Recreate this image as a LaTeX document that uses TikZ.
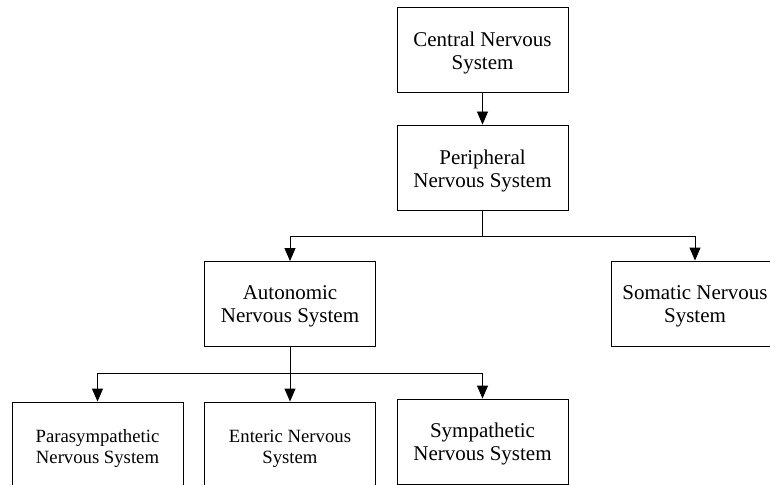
\documentclass[tikz,border=0pt]{standalone}
\usepackage{fontspec}
\setmainfont{Liberation Serif}
\usetikzlibrary{arrows.meta}
% text of a box, set a little below the middle
\newcommand{\boxtext}[2][-3.5pt]{\raisebox{#1}[\height][\depth]{%
  \begin{tabular}{@{}c@{}}#2\end{tabular}}}

\begin{document}
\begin{tikzpicture}[x=1pt,y=-1pt,line width=0.9pt,>={Triangle[length=13pt,width=11pt]},
  box/.style={draw,minimum width=171pt,minimum height=85pt,
    inner sep=0pt,font=\fontsize{21}{23}\selectfont},
  smallbox/.style={box,font=\fontsize{18.7}{20.5}\selectfont}]
\useasboundingbox (0,0) rectangle (770,484);
\clip (0,0) rectangle (770,484);
% top of the tree
\node[box] (cns) at (482.5,49.5) {\boxtext{Central Nervous\\System}};
\node[box] (pns) at (482.5,167.5) {\boxtext{Peripheral\\Nervous System}};
% second level
\node[box] (ans) at (290,304) {\boxtext[-2.5pt]{Autonomic\\Nervous System}};
\node[box,minimum width=168pt] (sns) at (695,303.5) {\boxtext[-2.5pt]{Somatic Nervous\\System}};
% third level, cut by the page edge
\node[smallbox] (para) at (97.5,444.5) {\boxtext[-4.5pt]{Parasympathetic\\Nervous System}};
\node[smallbox] (ent) at (290,444.5) {\boxtext[-4.5pt]{Enteric Nervous\\System}};
\node[box] (sym) at (482.5,441.5) {\boxtext[-3pt]{Sympathetic\\Nervous System}};
% connectors
\draw[->] (cns.south) -- (pns.north);
\coordinate (pbus) at (482.5,236);
\draw (pns.south) -- (pbus);
\draw[->] (pbus) -| (ans.north);
\draw[->] (pbus) -| (sns.north);
\coordinate (abus) at (290,373);
\draw (ans.south) -- (abus);
\draw[->] (abus) -| (para.north);
\draw[->] (abus) -- (ent.north);
\draw[->] (abus) -| (sym.north);
\end{tikzpicture}
\end{document}
